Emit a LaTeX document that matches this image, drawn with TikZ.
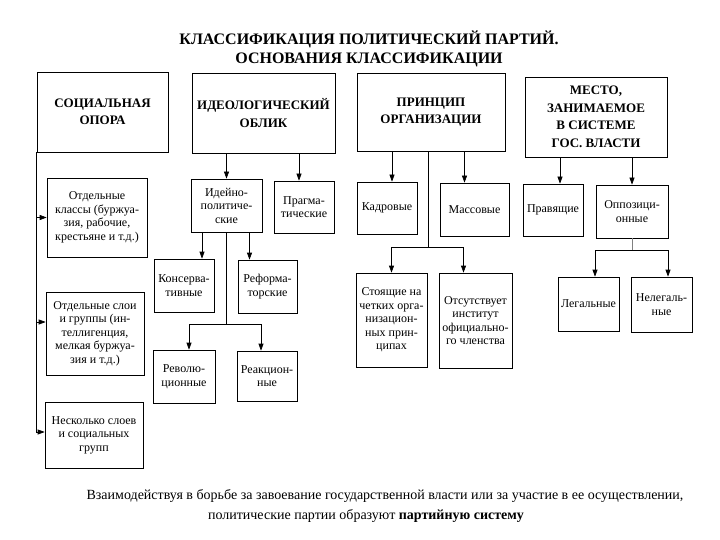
\documentclass[tikz,border=0pt]{standalone}
\usepackage{fontspec}
\setmainfont{Liberation Serif}
\usetikzlibrary{arrows.meta, positioning, calc}

\begin{document}
\begin{tikzpicture}[x=1pt, y=-1pt, >={Triangle[width=5pt,length=7pt]}, line width=0.7pt,
    bx/.style={draw, align=center, inner sep=1pt, font=\fontsize{12}{13.5}\selectfont},
    hd/.style={bx, font=\bfseries\fontsize{13}{17.5}\selectfont},
    sz/.style 2 args={minimum width=#1pt, minimum height=#2pt},
    ar/.style={->}]
    \useasboundingbox (0,0) rectangle (720,540);
    % заголовок
    \node[align=center, font=\bfseries\fontsize{16}{19}\selectfont] (ttl) at (369,49)
        {КЛАССИФИКАЦИЯ ПОЛИТИЧЕСКИЙ ПАРТИЙ.\\ОСНОВАНИЯ КЛАССИФИКАЦИИ};
    % основания
    \node[hd, sz={131}{80}] (soc) at (102.5,112) {СОЦИАЛЬНАЯ\\ОПОРА};
    \node[hd, sz={143}{80}] (ideo) at (263.5,113) {ИДЕОЛОГИЧЕСКИЙ\\ОБЛИК};
    \node[hd, sz={148}{78}] (princ) at (431,112) {ПРИНЦИП\\ОРГАНИЗАЦИИ};
    \node[hd, sz={142}{80}] (mesto) at (596,117) {МЕСТО,\\ЗАНИМАЕМОЕ\\В СИСТЕМЕ\\ГОС. ВЛАСТИ};
    % социальная опора
    \node[bx, sz={100}{79}] (cl1) at (97,217.5) {Отдельные\\классы (буржуа-\\зия, рабочие,\\крестьяне и т.д.)};
    \node[bx, sz={98}{83}] (cl2) at (95,333.5) {Отдельные слои\\и группы (ин-\\теллигенция,\\мелкая буржуа-\\зия и т.д.)};
    \node[bx, sz={98}{66}] (cl3) at (94,435) {Несколько слоев\\и социальных\\групп};
    % идеологический облик
    \node[bx, sz={71}{53}] (idpol) at (226.5,205.5) {Идейно-\\политиче-\\ские};
    \node[bx, sz={60}{52}] (pragm) at (304,207) {Прагма-\\тические};
    \node[bx, sz={60}{53}] (kons) at (184,285.5) {Консерва-\\тивные};
    \node[bx, sz={59}{53}] (reform) at (267.5,286.5) {Реформа-\\торские};
    \node[bx, sz={62}{53}] (revol) at (184,376.5) {Револю-\\ционные};
    \node[bx, sz={60}{50}] (react) at (267,376) {Реакцион-\\ные};
    % принцип организации
    \node[bx, sz={60}{52}] (kadr) at (387,208) {Кадровые};
    \node[bx, sz={69}{53}] (mass) at (474.5,209.5) {Массовые};
    \node[bx, sz={71}{94}] (stoy) at (391.5,320) {Стоящие на\\четких орга-\\низацион-\\ных прин-\\ципах};
    \node[bx, sz={73}{95}] (ots) at (475.5,320.5) {Отсутствует\\институт\\официально-\\го членства};
    % место в системе власти
    \node[bx, sz={60}{52}] (prav) at (553,210) {Правящие};
    \node[bx, sz={72}{53}] (oppoz) at (632,211.5) {Оппозици-\\онные};
    \node[bx, sz={61}{54}] (leg) at (588.5,304) {Легальные};
    \node[bx, sz={61}{55}] (neleg) at (661.5,304.5) {Нелегаль-\\ные};
    % связи
    \draw[ar] (soc.south west) |- (cl1.west);
    \draw[ar] (soc.south west) |- ([yshift=11.5pt]cl2.west);
    \draw[ar] (soc.south west) |- ([yshift=3pt]cl3.west);

    \draw[ar] (ideo.south -| idpol.north) -- (idpol.north);
    \draw[ar] ($(ideo.south -| pragm.north)+(-5,0)$) -- ($(pragm.north)+(-5,0)$);
    \draw[ar] ($(idpol.south -| kons.north)+(18,0)$) -- ($(kons.north)+(18,0)$);
    \draw[ar] ($(idpol.south -| reform.north)+(-18,0)$) -- ($(reform.north)+(-18,0)$);
    \coordinate (ibr) at ($(idpol.south |- revol.north)+(0,-25)$);
    \draw[ar] (idpol.south) -- (ibr) -| ($(revol.north)+(5,0)$);
    \draw[ar] (ibr) -| ($(react.north)+(-6,0)$);

    \draw[ar] ($(princ.south -| kadr.north)+(5,0)$) -- ($(kadr.north)+(5,0)$);
    \draw[ar] ($(princ.south -| mass.north)+(-10,0)$) -- ($(mass.north)+(-10,0)$);
    \coordinate (pbr) at ($(princ.south |- stoy.north)+(-3,-25)$);
    \draw[ar] ($(princ.south)+(-3,0)$) -- (pbr) -| (stoy.north);
    \draw[ar] (pbr) -| ($(ots.north)+(-12,0)$);

    \draw[ar] ($(mesto.south -| prav.north)+(7,0)$) -- ($(prav.north)+(7,0)$);
    \draw[ar] (mesto.south -| oppoz.north) -- (oppoz.north);
    \coordinate (obr) at ($(oppoz.south |- leg.north)+(0,-26)$);
    \draw[gray] (oppoz.south) -- (obr);
    \draw[ar] (obr) -| ($(leg.north)+(6.5,0)$);
    \draw[ar] (obr) -| ($(neleg.north)+(6.5,0)$);
    % вывод
    \node[font=\fontsize{14}{20}\selectfont] (ft1) at (385,496)
        {Взаимодействуя в борьбе за завоевание государственной власти или за участие в ее осуществлении,};
    \node[font=\fontsize{14}{20}\selectfont] (ft2) at (366,516)
        {политические партии образуют \textbf{партийную систему}};
\end{tikzpicture}
\end{document}
